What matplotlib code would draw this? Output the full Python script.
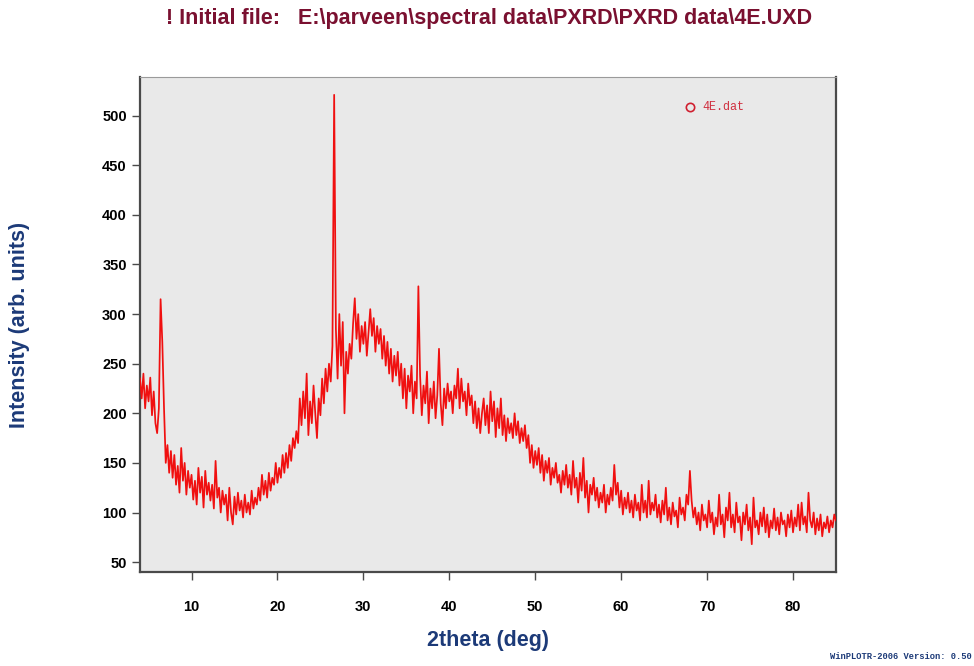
import matplotlib.pyplot as plt
import numpy as np
from matplotlib import rcParams

rcParams["font.family"] = ["Liberation Sans", "DejaVu Sans"]

COLOR_TRACE = "#F01010"
COLOR_TITLE = "#7A1030"
COLOR_LABEL = "#1C3A78"
PANEL_GRAY = "#E9E9E9"
SPINE_GRAY = "#4A4A4A"

# 2theta scan, 0.2 deg step starting at 4.0 deg
TWO_THETA_START = 4.0
TWO_THETA_STEP = 0.2

counts_04_14 = [
    235, 215, 240, 205, 228, 212, 236, 198, 222, 190,
    180, 205, 315, 272, 205, 150, 168, 140, 162, 135,
    158, 128, 147, 120, 165, 132, 150, 118, 142, 125,
    138, 113, 132, 108, 145, 120, 136, 105, 142, 118,
    130, 112, 128, 104, 152, 115, 125, 100, 122, 108,
]
counts_14_24 = [
    118, 92, 125, 100, 88, 116, 98, 120, 102, 112,
    95, 118, 100, 110, 98, 122, 104, 115, 108, 125,
    112, 138, 118, 132, 115, 140, 122, 135, 128, 150,
    130, 145, 135, 158, 140, 160, 145, 168, 152, 175,
    165, 182, 170, 215, 188, 222, 195, 240, 178, 212,
]
counts_24_34 = [
    190, 228, 200, 175, 215, 198, 235, 210, 245, 222,
    250, 232, 268, 521, 285, 235, 300, 248, 292, 200,
    262, 240, 270, 255, 290, 316, 275, 300, 262, 288,
    270, 292, 258, 282, 305, 278, 296, 262, 288, 270,
    285, 255, 278, 248, 272, 240, 265, 232, 258, 238,
]
counts_34_44 = [
    262, 228, 250, 215, 245, 205, 238, 222, 248, 200,
    232, 215, 328, 238, 198, 228, 210, 242, 190, 225,
    205, 232, 195, 218, 265, 210, 188, 225, 205, 230,
    212, 222, 200, 228, 215, 245, 205, 235, 212, 222,
    198, 230, 208, 218, 190, 212, 185, 205, 180, 200,
]
counts_44_54 = [
    215, 188, 208, 180, 222, 192, 212, 176, 205, 185,
    215, 178, 198, 172, 195, 180, 190, 175, 200, 178,
    192, 170, 185, 172, 188, 165, 178, 150, 168, 145,
    162, 148, 165, 140, 158, 132, 152, 140, 155, 128,
    145, 135, 150, 130, 138, 120, 142, 128, 148, 125,
]
counts_54_64 = [
    138, 118, 152, 125, 135, 110, 140, 122, 155, 115,
    132, 100, 128, 118, 135, 112, 125, 105, 120, 110,
    128, 100, 118, 108, 125, 112, 148, 118, 130, 105,
    122, 98, 115, 104, 120, 100, 112, 95, 118, 102,
    110, 92, 128, 100, 112, 95, 132, 98, 110, 102,
]
counts_64_74 = [
    118, 95, 108, 90, 112, 98, 125, 92, 105, 88,
    110, 96, 102, 85, 115, 98, 105, 92, 118, 108,
    142, 112, 95, 105, 88, 100, 82, 108, 92, 98,
    85, 112, 90, 100, 78, 95, 86, 118, 88, 98,
    75, 105, 92, 120, 85, 98, 80, 110, 90, 96,
]
counts_74_85 = [
    72, 100, 88, 108, 82, 95, 68, 115, 85, 92,
    78, 100, 86, 105, 80, 98, 75, 92, 84, 104,
    82, 95, 78, 100, 88, 92, 76, 98, 85, 102,
    80, 95, 86, 108, 82, 110, 88, 96, 80, 120,
    92, 85, 100, 78, 94, 82, 98, 76, 90, 84,
    96, 80, 92, 85, 98, 92,
]

Y_TICKS = [50, 100, 150, 200, 250, 300, 350, 400, 450, 500]
X_TICKS = [10, 20, 30, 40, 50, 60, 70, 80]


def make_pxrd_plot():
    intensity = np.array(
        counts_04_14 + counts_14_24 + counts_24_34 + counts_34_44
        + counts_44_54 + counts_54_64 + counts_64_74 + counts_74_85,
        dtype=float,
    )
    two_theta = TWO_THETA_START + TWO_THETA_STEP * np.arange(len(intensity))

    fig = plt.figure(figsize=(9.74, 6.66), dpi=100)
    ax = fig.add_axes([0.1437, 0.1411, 0.7146, 0.7433])
    ax.set_facecolor(PANEL_GRAY)

    ax.plot(two_theta, intensity, color=COLOR_TRACE, linewidth=1.25, zorder=3)

    ax.set_xlim(4.0, 85.0)
    ax.set_ylim(40, 539)
    ax.set_xticks(X_TICKS)
    ax.set_yticks(Y_TICKS)

    for side in ["left", "bottom", "right"]:
        ax.spines[side].set_color(SPINE_GRAY)
        ax.spines[side].set_linewidth(1.6)
    ax.spines["top"].set_color("#9A9A9A")
    ax.spines["top"].set_linewidth(0.8)

    ax.tick_params(axis="both", direction="out", length=6, width=1.0,
                   color=SPINE_GRAY, labelsize=10.5)
    ax.tick_params(axis="x", pad=14)
    for lab in ax.get_xticklabels() + ax.get_yticklabels():
        lab.set_fontweight("bold")

    ax.set_xlabel("2theta (deg)", fontsize=15.5, fontweight="bold",
                  color=COLOR_LABEL, labelpad=12)
    ax.set_ylabel("Intensity (arb. units)", fontsize=15.5, fontweight="bold",
                  color=COLOR_LABEL, labelpad=52)

    fig.text(0.502, 0.972,
             "! Initial file:   E:\\parveen\\spectral data\\PXRD\\PXRD data\\4E.UXD",
             ha="center", va="center", fontsize=15.5, fontweight="bold",
             color=COLOR_TITLE)

    # legend entry: open circle + file name
    ax.plot([0.79], [0.94], transform=ax.transAxes, marker="o",
            markersize=6, markerfacecolor="none", markeredgecolor="#D02030",
            markeredgewidth=1.2, linestyle="none", clip_on=False)
    ax.text(0.808, 0.94, "4E.dat", transform=ax.transAxes, ha="left",
            va="center", fontsize=8.5, family="Liberation Mono",
            color="#D03040")

    fig.text(0.998, 0.008, "WinPLOTR-2006 Version: 0.50", ha="right",
             va="bottom", fontsize=6.3, family="Liberation Mono",
             fontweight="bold", color=COLOR_LABEL)

    return fig


if __name__ == "__main__":
    fig = make_pxrd_plot()
    fig.savefig("out.png", dpi=100)
